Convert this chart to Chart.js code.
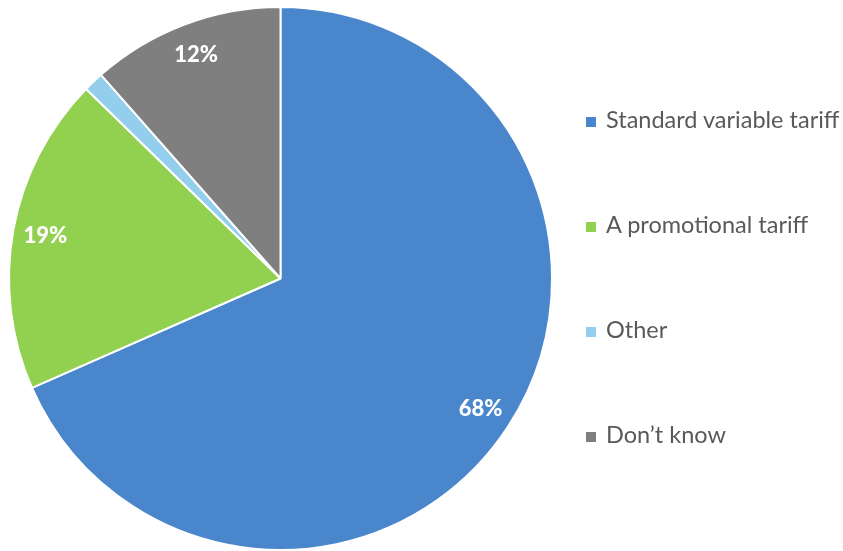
<!DOCTYPE html>
<html>
<head>
<meta charset="utf-8">
<script src="https://cdn.jsdelivr.net/npm/chart.js@4/dist/chart.umd.min.js"></script>
<style>
  html, body { margin: 0; padding: 0; background: #fff; }
  #wrap { position: relative; width: 843px; height: 551px; }
  #legend { position: absolute; left: 586px; top: 105px; font-family: "Lato", sans-serif; font-size: 23.5px; color: #595959; }
  .item { height: 105px; display: flex; align-items: flex-start; }
  .box { width: 10px; height: 10px; margin: 12px 10px 0 0; }
</style>
</head>
<body>
<div id="wrap">
  <canvas id="pie" width="843" height="551"></canvas>
  <div id="legend"></div>
</div>
<script>
const CATEGORIES = ["Standard variable tariff", "A promotional tariff", "Other", "Don\u2019t know"];
const SHARES = [68.4, 18.9, 1.2, 11.5];
const COLORS = ["#4a86cc", "#92d050", "#93cfec", "#7f7f7f"];
const SHOW_LABEL = [true, true, false, true];

const legendEl = document.getElementById("legend");
legendEl.innerHTML = CATEGORIES.map((name, i) =>
  `<div class="item"><span class="box" style="background:${COLORS[i]}"></span><span>${name}</span></div>`
).join("");

const sliceLabels = {
  id: "sliceLabels",
  afterDatasetsDraw(chart) {
    const ctx = chart.ctx;
    const meta = chart.getDatasetMeta(0);
    ctx.save();
    ctx.font = "900 22px Lato, sans-serif";
    ctx.fillStyle = "#fff";
    ctx.textAlign = "center";
    ctx.textBaseline = "middle";
    meta.data.forEach((arc, i) => {
      if (!SHOW_LABEL[i]) return;
      const mid = (arc.startAngle + arc.endAngle) / 2;
      const r = arc.outerRadius * 0.88;
      ctx.fillText(Math.round(SHARES[i]) + "%", arc.x + Math.cos(mid) * r, arc.y + Math.sin(mid) * r);
    });
    ctx.restore();
  },
};

new Chart(document.getElementById("pie"), {
  type: "pie",
  data: {
    labels: CATEGORIES,
    datasets: [{ data: SHARES, backgroundColor: COLORS, borderColor: "#fff", borderWidth: 2 }],
  },
  options: {
    responsive: false,
    animation: false,
    layout: { padding: { top: 6, bottom: 0, left: 8, right: 290 } },
    plugins: { legend: { display: false }, tooltip: { enabled: false } },
  },
  plugins: [sliceLabels],
});
</script>
</body>
</html>
